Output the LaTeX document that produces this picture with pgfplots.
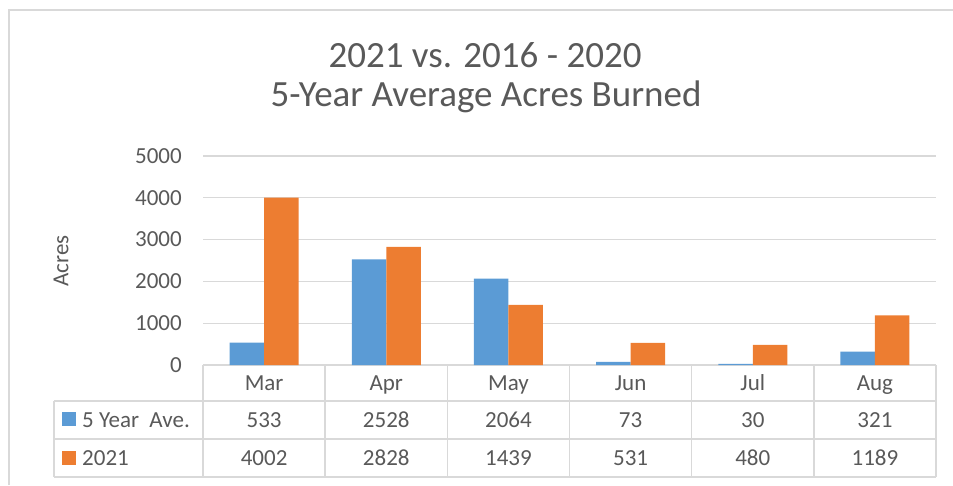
\documentclass[border=0pt]{standalone}
\usepackage{pgfplots}
\usepackage{pgfplotstable}
\pgfplotsset{compat=1.18}
\usepackage{fontspec}
\setmainfont{Carlito}
\definecolor{cblue}{HTML}{5B9BD5}
\definecolor{corange}{HTML}{ED7D31}
\definecolor{gridgray}{HTML}{D9D9D9}
\definecolor{txt}{HTML}{595959}
\pgfplotstableread{
x ave y2021
0 533 4002
1 2528 2828
2 2064 1439
3 73 531
4 30 480
5 321 1189
}\datatable
\newcommand{\tf}{\fontsize{23}{27}\selectfont}
\begin{document}
\begin{tikzpicture}
\useasboundingbox (0pt,0pt) rectangle (953pt,-485pt);
% outer frame
\draw[gridgray, line width=1.5pt] (9pt,-485pt) -- (9pt,-10pt) -- (953pt,-10pt);
% title
\node[anchor=base, text=txt, font=\fontsize{37}{44}\selectfont, inner sep=0pt] at (485pt,-67pt) {2021 vs. 2016 - 2020};
\node[anchor=base, text=txt, font=\fontsize{37}{44}\selectfont, inner sep=0pt] at (486pt,-106pt) {5-Year Average Acres Burned};
% y label
\node[rotate=90, text=txt, font=\tf, inner sep=0pt] at (61pt,-261pt) {Acres};
\begin{axis}[
  at={(203pt,-365pt)}, anchor=south west,
  scale only axis, width=733pt, height=209pt,
  xmin=-0.5, xmax=5.5, ymin=0, ymax=5000,
  ytick={0,1000,2000,3000,4000,5000},
  xtick=\empty,
  ymajorgrids, grid style={gridgray, line width=1.2pt},
  axis x line*=bottom, axis y line*=left,
  x axis line style={gridgray, line width=1.5pt},
  y axis line style={draw=none},
  major tick style={draw=none},
  yticklabel style={anchor=east, inner sep=0pt, xshift=-21pt, text=txt, font=\tf, /pgf/number format/assume math mode=true},
  scaled y ticks=false,
  /pgf/number format/1000 sep={},
  ybar=0pt, bar width=34.5pt,
  clip=false,
]
\addplot[fill=cblue, draw=none, bar shift=-17.25pt] table[x=x, y=ave] {\datatable};
\addplot[fill=corange, draw=none, bar shift=17.25pt] table[x=x, y=y2021] {\datatable};
\end{axis}
% data table grid
\foreach \k in {0,...,6} {
  \pgfmathsetmacro\xx{203+122.17*\k}
  \draw[gridgray, line width=1.5pt] (\xx pt,-365pt) -- (\xx pt,-477pt);
}
\foreach \yy in {401,439,477} {
  \draw[gridgray, line width=1.5pt] (54pt,-\yy pt) -- (936pt,-\yy pt);
}
\draw[gridgray, line width=1.5pt] (54pt,-401pt) -- (54pt,-477pt);
% categories
\foreach \c [count=\i from 0] in {Mar,Apr,May,Jun,Jul,Aug} {
  \pgfmathsetmacro\xx{264.1+122.17*\i}
  \node[anchor=base, text=txt, font=\tf, inner sep=0pt] at (\xx pt,-390pt) {\c};
}
\foreach \v [count=\i from 0] in {533,2528,2064,73,30,321} {
  \pgfmathsetmacro\xx{264.1+122.17*\i}
  \node[anchor=base, text=txt, font=\tf, inner sep=0pt] at (\xx pt,-427pt) {\v};
}
\foreach \v [count=\i from 0] in {4002,2828,1439,531,480,1189} {
  \pgfmathsetmacro\xx{264.1+122.17*\i}
  \node[anchor=base, text=txt, font=\tf, inner sep=0pt] at (\xx pt,-465pt) {\v};
}
% legend keys
\fill[cblue] (62pt,-412pt) rectangle (76pt,-426pt);
\fill[corange] (62pt,-451pt) rectangle (76pt,-465pt);
\node[anchor=base west, text=txt, font=\tf, inner sep=0pt] at (82pt,-427pt) {5 Year\ \ Ave.};
\node[anchor=base west, text=txt, font=\tf, inner sep=0pt] at (82pt,-465pt) {2021};
\end{tikzpicture}
\end{document}
